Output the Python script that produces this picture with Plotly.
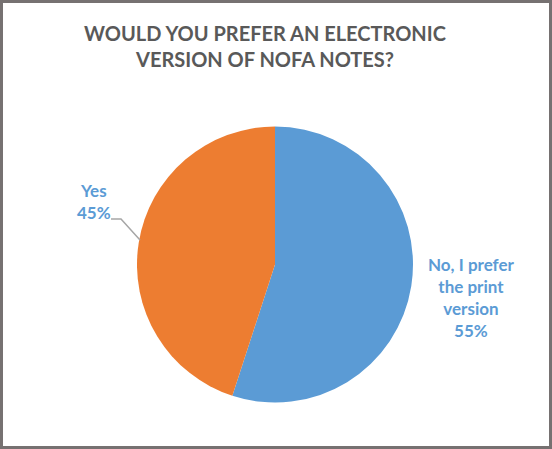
import plotly.graph_objects as go

title = "WOULD YOU PREFER AN ELECTRONIC<br>VERSION OF NOFA NOTES?"
labels = ["No, I prefer the print version", "Yes"]
label_lines = ["No, I prefer<br>the print<br>version", "Yes"]
values = [55, 45]
colors = ["#5B9BD5", "#ED7D31"]

W, H = 552, 449
fig = go.Figure(go.Pie(
    labels=labels, values=values, sort=False, direction="clockwise", rotation=0,
    marker=dict(colors=colors, line=dict(width=0)),
    textinfo="none", hoverinfo="label+percent", showlegend=False,
    domain=dict(x=[137 / W, 413 / W], y=[1 - 403 / H, 1 - 126 / H]),
))

total = sum(values)
pct = [f"{round(v * 100 / total)}%" for v in values]
font = dict(family="Lato, Open Sans, sans-serif", size=17, color="#5B9BD5")
fig.add_annotation(x=471 / W, y=1 - 297 / H, xref="paper", yref="paper",
                   text=f"<b>{label_lines[0]}<br>{pct[0]}</b>", showarrow=False,
                   font=font, align="center", xanchor="center", yanchor="middle")
fig.add_annotation(x=94 / W, y=1 - 201 / H, xref="paper", yref="paper",
                   text=f"<b>{label_lines[1]}<br>{pct[1]}</b>", showarrow=False,
                   font=font, align="center", xanchor="center", yanchor="middle")
fig.add_shape(type="path", xref="paper", yref="paper",
              path=f"M {111/W} {1-219/H} L {121/W} {1-219/H} L {140/W} {1-240/H}",
              line=dict(color="#A6A6A6", width=1.5))
fig.add_shape(type="rect", xref="paper", yref="paper",
              x0=1.5 / W, x1=1 - 1.5 / W, y0=1.5 / H, y1=1 - 1.5 / H,
              line=dict(color="#767171", width=3))

fig.update_layout(
    width=W, height=H, margin=dict(l=0, r=0, t=0, b=0),
    paper_bgcolor="white", plot_bgcolor="white",
    title=dict(text=f"<b>{title}</b>", x=265 / W, xanchor="center",
               y=1 - 41 / H, yanchor="middle",
               font=dict(family="Lato, Open Sans, sans-serif", size=20, color="#595959")),
)
fig.write_html("out.html", config={"displayModeBar": False},
               post_script="document.body.style.margin='0';document.body.style.overflow='hidden';")
